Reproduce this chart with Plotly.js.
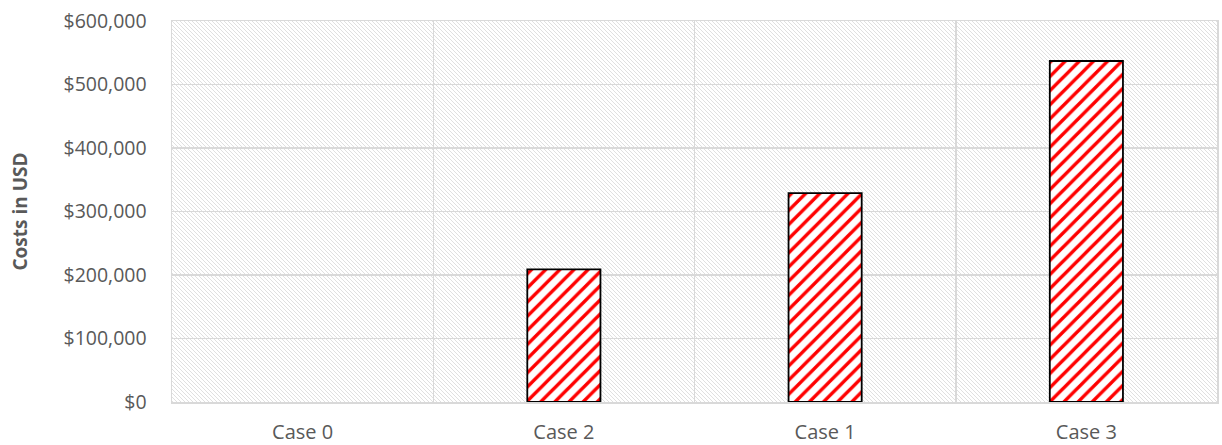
<!DOCTYPE html>
<html>
<head>
<meta charset="utf-8">
<script src="https://cdn.plot.ly/plotly-3.0.1.min.js"></script>
<style>
  html, body { margin: 0; padding: 0; background: #ffffff; }
  #chart { width: 1222px; height: 445px; }
</style>
</head>
<body>
<div id="chart"></div>
<script>
// ---- data ----
const categories = ["Case 0", "Case 2", "Case 1", "Case 3"];
const costs = [0, 209000, 329000, 537000];
const yTickValues = [0, 100000, 200000, 300000, 400000, 500000, 600000];
const yTickLabels = ["$0", "$100,000", "$200,000", "$300,000", "$400,000", "$500,000", "$600,000"];

// ---- background hatch (decorative plot-area fill) ----
const W = 1045, H = 381;
const hatchSvg =
  '<svg xmlns="http://www.w3.org/2000/svg" width="' + W + '" height="' + H + '" viewBox="0 0 ' + W + ' ' + H + '" preserveAspectRatio="none">' +
  '<defs><pattern id="h" patternUnits="userSpaceOnUse" width="4" height="4">' +
  '<path d="M-1,-1 L5,5 M-1,3 L1,5 M3,-1 L5,1" stroke="#e0e0e0" stroke-width="1"/>' +
  '</pattern></defs>' +
  '<rect width="' + W + '" height="' + H + '" fill="#ffffff"/>' +
  '<rect width="' + W + '" height="' + H + '" fill="url(#h)"/>' +
  '</svg>';
const hatchUri = 'data:image/svg+xml;charset=utf-8,' + encodeURIComponent(hatchSvg);

const FONT = "'Open Sans', 'Noto Sans', sans-serif";
const TXT = "#595959";
const GRID = "#d9d9d9";

const trace = {
  type: "bar",
  x: categories,
  y: costs,
  marker: {
    color: "#ffffff",
    line: { color: "#000000", width: costs.map(v => (v > 0 ? 1.8 : 0)) },
    pattern: { shape: "/", fgcolor: "#ff0000", bgcolor: "#ffffff", size: 10, solidity: 0.34, fillmode: "replace" }
  },
  hoverinfo: "x+y",
  showlegend: false
};

const layout = {
  width: 1222,
  height: 445,
  margin: { l: 172, r: 5, t: 21, b: 43, pad: 0 },
  paper_bgcolor: "#ffffff",
  plot_bgcolor: "#ffffff",
  bargap: 0.72,
  font: { family: FONT, color: TXT, size: 20 },
  images: [{
    source: hatchUri,
    xref: "paper", yref: "paper",
    x: 0, y: 1, sizex: 1, sizey: 1,
    xanchor: "left", yanchor: "top",
    sizing: "stretch",
    layer: "below"
  }],
  xaxis: {
    type: "category",
    tickson: "boundaries",
    showgrid: true,
    gridcolor: GRID,
    gridwidth: 1.5,
    showline: true,
    mirror: true,
    linecolor: GRID,
    linewidth: 1.5,
    ticks: "",
    ticklabelstandoff: 11,
    tickfont: { family: FONT, color: TXT, size: 20 },
    zeroline: false,
    fixedrange: true
  },
  yaxis: {
    range: [0, 600000],
    tickvals: yTickValues,
    ticktext: yTickLabels,
    showgrid: true,
    gridcolor: GRID,
    gridwidth: 1.5,
    showline: true,
    mirror: true,
    linecolor: GRID,
    linewidth: 1.5,
    zeroline: false,
    ticks: "",
    ticklabelstandoff: 20,
    tickfont: { family: FONT, color: TXT, size: 19.5 },
    title: {
      text: "<b>Costs in USD</b>",
      font: { family: FONT, color: TXT, size: 19 },
      standoff: 31
    },
    fixedrange: true
  }
};

Plotly.newPlot("chart", [trace], layout, { displayModeBar: false, staticPlot: true });
</script>
</body>
</html>
